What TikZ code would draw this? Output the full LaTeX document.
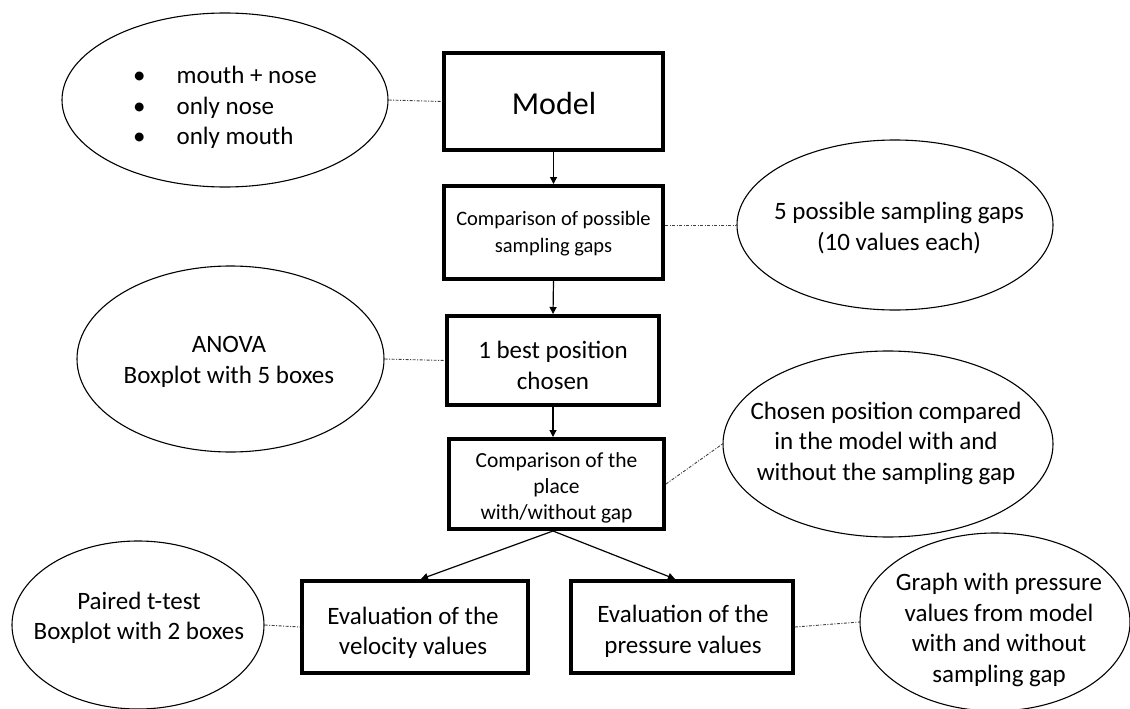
\documentclass[tikz,border=0pt]{standalone}
\usepackage{fontspec}
\setmainfont{Carlito}
\usetikzlibrary{shapes.geometric,arrows.meta}
\begin{document}
\begin{tikzpicture}[x=1pt,y=-1pt,
  stepbox/.style={draw=black,line width=4pt,rectangle,inner sep=0pt,align=center},
  ell/.style={draw=black,line width=1.1pt,ellipse,inner sep=0pt},
  txt/.style={align=center,inner sep=0pt},
  arr/.style={line width=1.2pt,-{Triangle[length=7pt,width=7pt]}},
  link/.style={line width=0.9pt,black!75,dash pattern=on 3pt off 1.5pt on 1pt off 1.5pt},
  fs/.style={font=\fontsize{25}{30.5}\selectfont}
]
\useasboundingbox (0,0) rectangle (1130,709);

% boxes
\node[stepbox,minimum width=219pt,minimum height=97pt] (model) at (553.5,101.5) {};
\node[stepbox,minimum width=219pt,minimum height=93pt] (comp) at (553.5,232.5) {};
\node[stepbox,minimum width=212pt,minimum height=89pt] (best) at (553,360.5) {};
\node[stepbox,minimum width=215pt,minimum height=90pt] (place) at (556.5,484) {};
\node[stepbox,minimum width=226pt,minimum height=92pt] (velo) at (415,627) {};
\node[stepbox,minimum width=222pt,minimum height=92pt] (press) at (682,627) {};

% box texts
\node[txt,font=\fontsize{32}{38}\selectfont] (modelt) at (554,103.5) {Model};
\node[txt,font=\fontsize{20.5}{27}\selectfont] (compt) at (553.5,233.5) {Comparison of possible\\sampling gaps};
\node[txt,font=\fontsize{25}{31}\selectfont] (bestt) at (553,365) {1 best position\\chosen};
\node[txt,font=\fontsize{21.5}{26}\selectfont] (placet) at (556.5,488) {Comparison of the\\place\\with/without gap};
\node[txt,font=\fontsize{25}{29.5}\selectfont] (velot) at (413,633) {Evaluation of the\\velocity values};
\node[txt,font=\fontsize{25}{31}\selectfont] (presst) at (683,631) {Evaluation of the\\pressure values};

% ellipses
\node[ell,minimum width=326pt,minimum height=174pt] (e1) at (225,100) {};
\node[ell,minimum width=316pt,minimum height=170pt] (e2) at (895,225) {};
\node[ell,minimum width=307pt,minimum height=186pt] (e3) at (230.5,359) {};
\node[ell,minimum width=330pt,minimum height=186pt] (e4) at (888,444) {};
\node[ell,minimum width=252pt,minimum height=168pt] (e5) at (138,625) {};
\node[ell,minimum width=270pt,minimum height=178pt] (e6) at (995,622) {};

% ellipse texts
\node[txt,fs,anchor=west] (e1t) at (133,108) {\begin{tabular}{@{}l@{\hspace{31pt}}l@{}}\textbullet & mouth + nose\\ \textbullet & only nose\\ \textbullet & only mouth\end{tabular}};
\node[txt,fs] (e2t) at (899,228) {5 possible sampling gaps\\(10 values each)};
\node[txt,fs] (e3t) at (229,362) {ANOVA\\Boxplot with 5 boxes};
\node[txt,fs] (e4t) at (886,443) {Chosen position compared\\in the model with and\\without the sampling gap};
\node[txt,fs] (e5t) at (139,618) {Paired t-test\\Boxplot with 2 boxes};
\node[txt,fs] (e6t) at (999,630) {Graph with pressure\\values from model\\with and without\\sampling gap};

% arrows
\draw[arr] (model.south) -- (comp.north);
\draw[arr] (comp.south) -- (best.north);
\draw[arr] (best.south) -- (best.south |- place.north);
\draw[arr] ([xshift=-3.5pt]place.south) -- ([xshift=6pt]velo.north);
\draw[arr] ([xshift=-3.5pt]place.south) -- ([xshift=-7pt]press.north);

% dash-dot links
\draw[link] (e1.east) -- (model.west);
\draw[link] (comp.east |- e2.west) -- (e2.west);
\draw[link] (e3.east) -- (best.west);
\draw[link] (place.east) -- (e4.west);
\draw[link] (e5.east) -- (velo.west);
\draw[link] (press.east) -- (e6.west);
\end{tikzpicture}
\end{document}
